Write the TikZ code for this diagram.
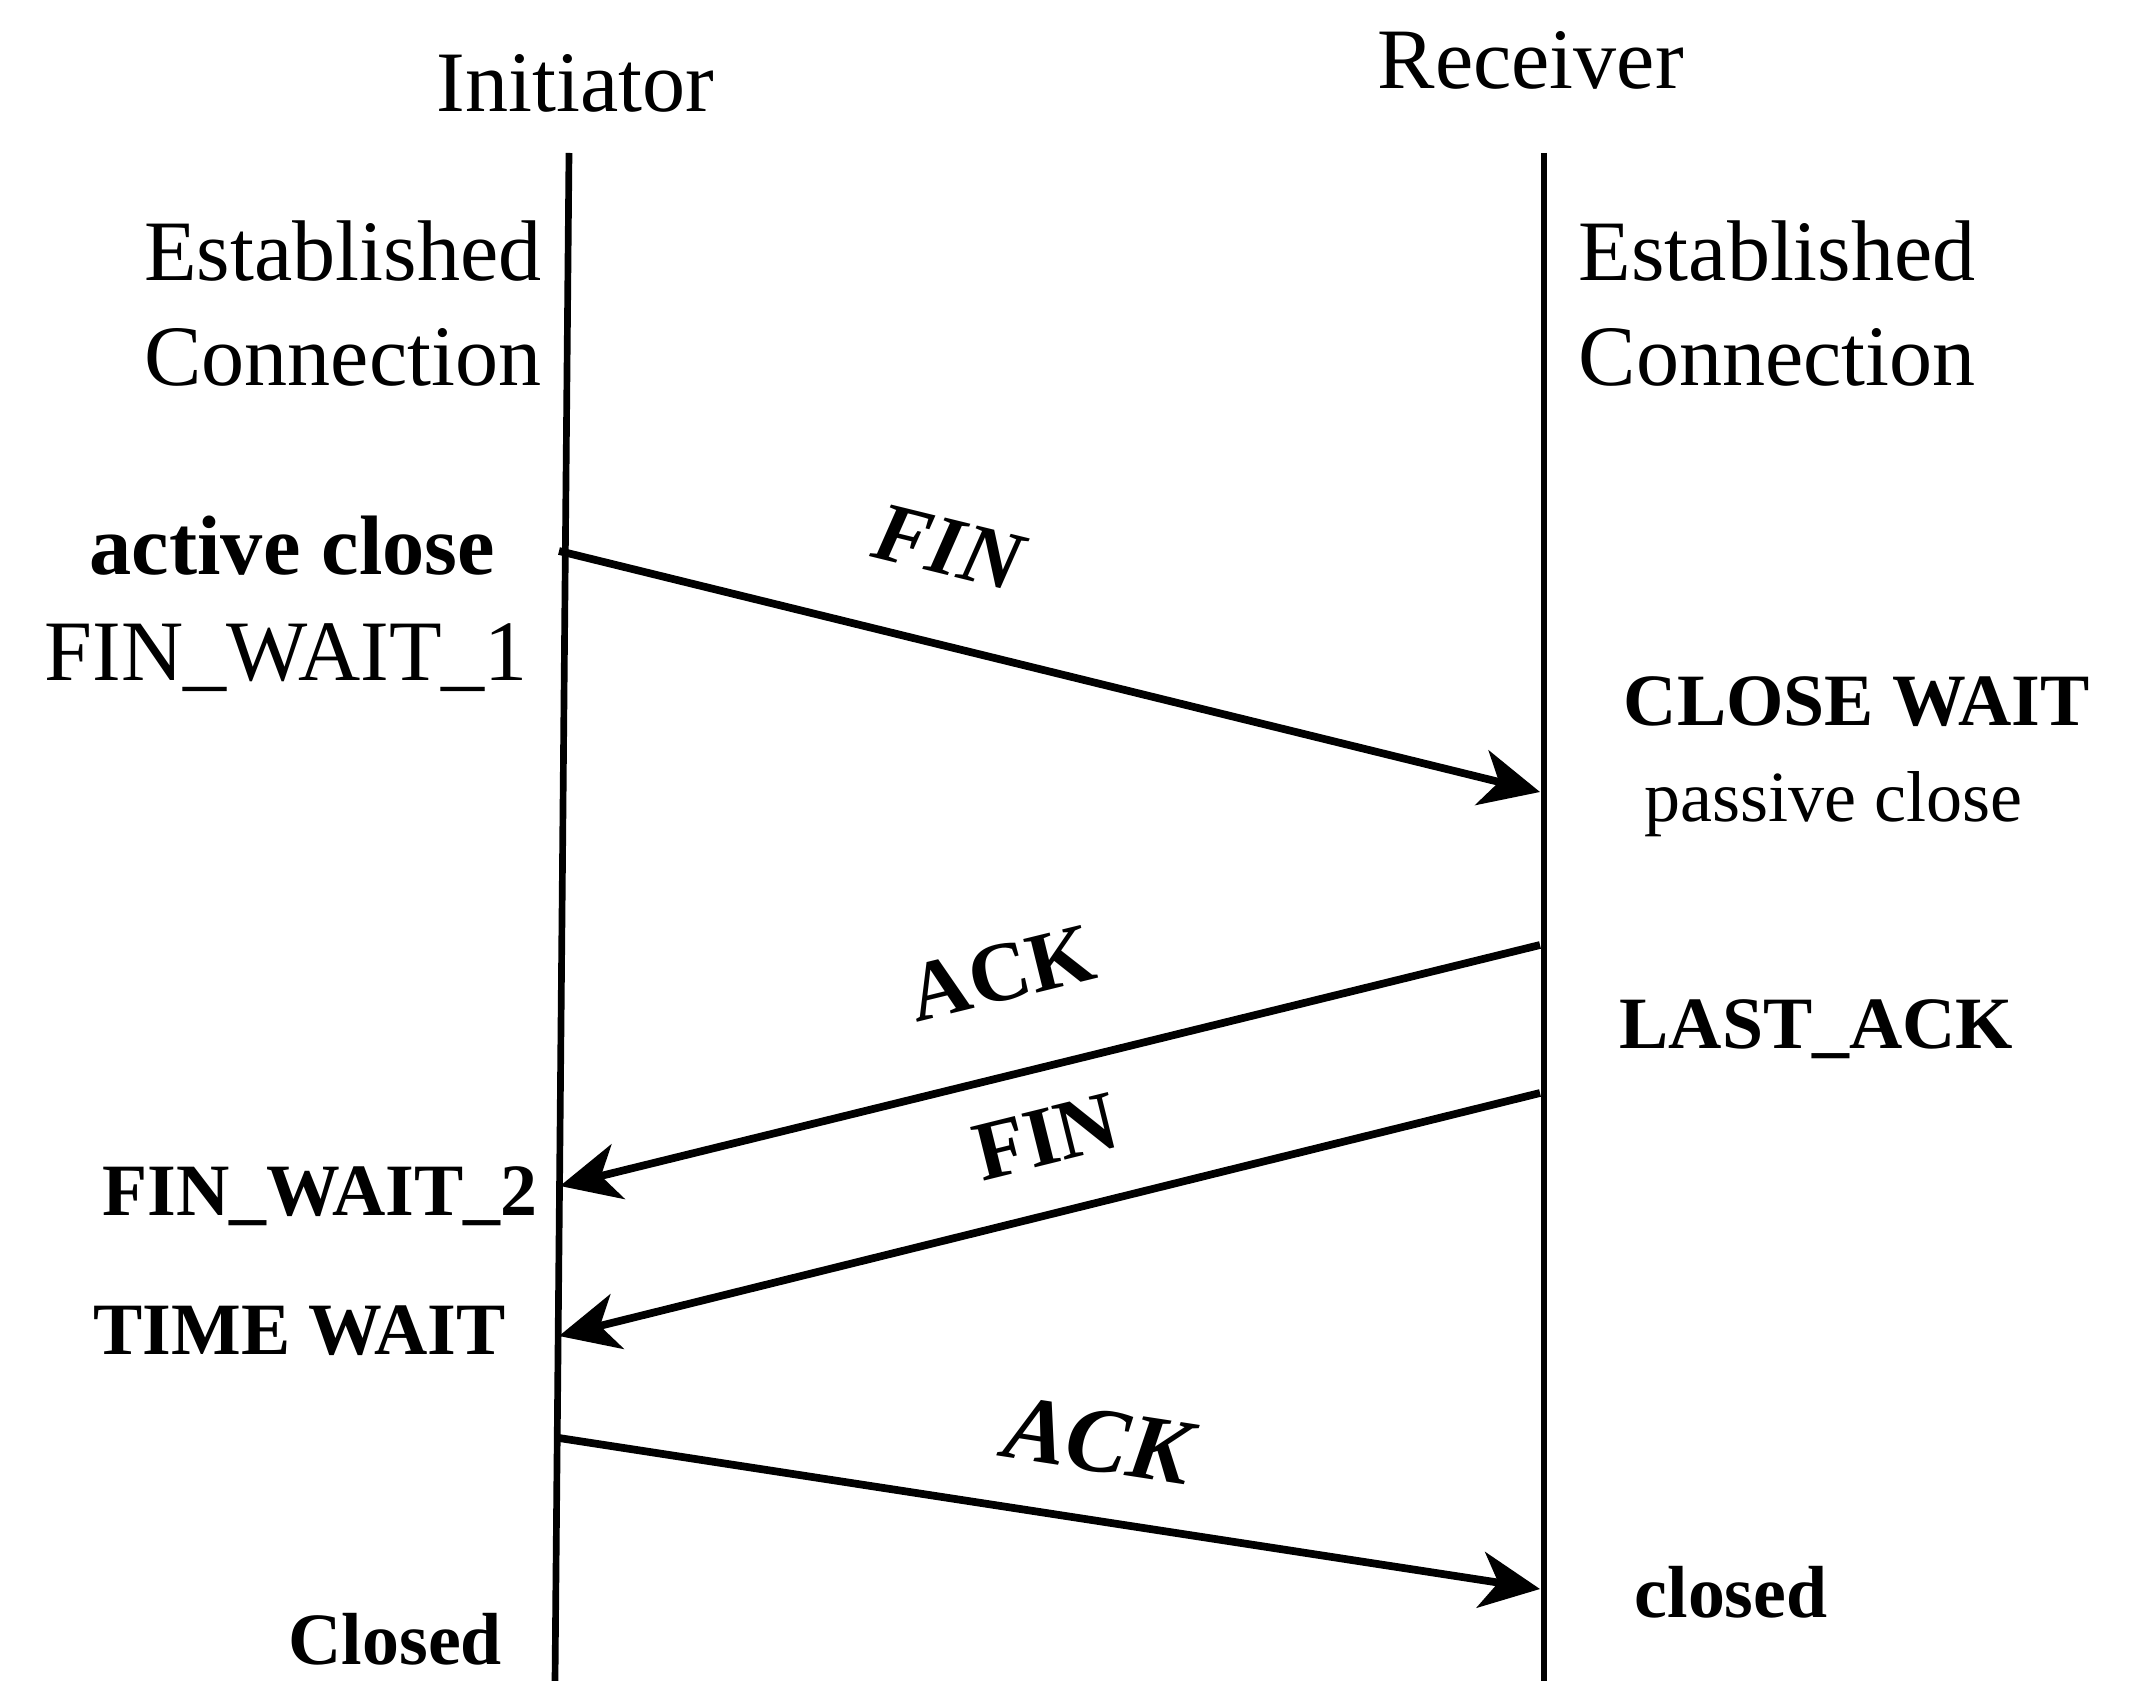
\documentclass[tikz,border=0pt]{standalone}
\usepackage{fontspec}
\setmainfont{Liberation Serif}
\usetikzlibrary{arrows.meta}
\begin{document}
\begin{tikzpicture}[>={Stealth[length=17pt,width=16pt,inset=5pt]},
		life/.style={line width=1.9pt},
		msg/.style={->, line width=2.2pt},
		big/.style={font=\fontsize{24.5}{29}\selectfont, inner sep=0pt},
		state/.style={font=\fontsize{21}{25}\selectfont\bfseries, inner sep=0pt},
		lbl/.style={font=\fontsize{24}{28}\selectfont\bfseries, inner sep=0pt, sloped}]
		\useasboundingbox (0,0) rectangle (21.48,-16.81);
		
		% Lifelines
		\coordinate (itop) at (5.69,-1.53);
		\coordinate (ibot) at (5.55,-16.81);
		\coordinate (rtop) at (15.44,-1.53);
		\coordinate (rbot) at (15.44,-16.81);
		\draw[life] (itop) -- (ibot);
		\draw[life] (rtop) -- (rbot);
		
		% Headers
		\node[big, anchor=base west] (init) at (4.36,-1.12) {Initiator};
		\node[big, anchor=base west] (recv) at (13.77,-0.89) {Receiver};
		\node[big, anchor=base east] (iest) at (5.42,-2.81) {Established};
		\node[big, anchor=base east] (icon) at (5.42,-3.86) {Connection};
		\node[big, anchor=base west] (rest) at (15.78,-2.81) {Established};
		\node[big, anchor=base west] (rcon) at (15.78,-3.86) {Connection};
		
		% States
		\node[big, anchor=base west, font=\fontsize{24}{28}\selectfont\bfseries] (actc) at (0.89,-5.75) {active close};
		\node[big, anchor=base west] (fw1) at (0.44,-6.81) {FIN\_WAIT\_1};
		\node[state, anchor=base west] (clw) at (16.23,-7.26) {CLOSE WAIT};
		\node[anchor=base west, inner sep=0pt, font=\fontsize{20.5}{24}\selectfont] (pasc) at (16.44,-8.22) {passive close};
		\node[state, anchor=base west] (lack) at (16.19,-10.48) {LAST\_ACK};
		\node[state, anchor=base east] (fw2) at (5.38,-12.15) {FIN\_WAIT\_2};
		\node[state, anchor=base west] (tw) at (0.93,-13.54) {TIME WAIT};
		\node[state, anchor=base west] (rcl) at (16.34,-16.17) {closed};
		\node[state, anchor=base west] (icl) at (2.88,-16.64) {Closed};
		
		% Messages
		\coordinate (finAs) at (5.59,-5.51);
		\coordinate (finAe) at (15.40,-7.92);
		\coordinate (ackAs) at (15.40,-9.45);
		\coordinate (ackAe) at (5.60,-11.86);
		\coordinate (finBs) at (15.40,-10.93);
		\coordinate (finBe) at (5.59,-13.36);
		\coordinate (ackBs) at (5.59,-14.38);
		\coordinate (ackBe) at (15.40,-15.89);
		
		\draw[msg] (finAs) -- node[lbl, above=18.5pt, pos=0.375] (finlA) {\textit{FIN}} (finAe);
		\draw[msg, <-] (ackAe) -- node[lbl, above=19.6pt, pos=0.475] (acklA) {ACK} (ackAs);
		\draw[msg, <-] (finBe) -- node[lbl, above=12.7pt, pos=0.515] (finlB) {FIN} (finBs);
		\draw[msg] (ackBs) -- node[lbl, above=12.5pt, pos=0.54, font=\fontsize{26.5}{30}\selectfont\bfseries] (acklB) {\textit{ACK}} (ackBe);
		
	\end{tikzpicture}
\end{document}
